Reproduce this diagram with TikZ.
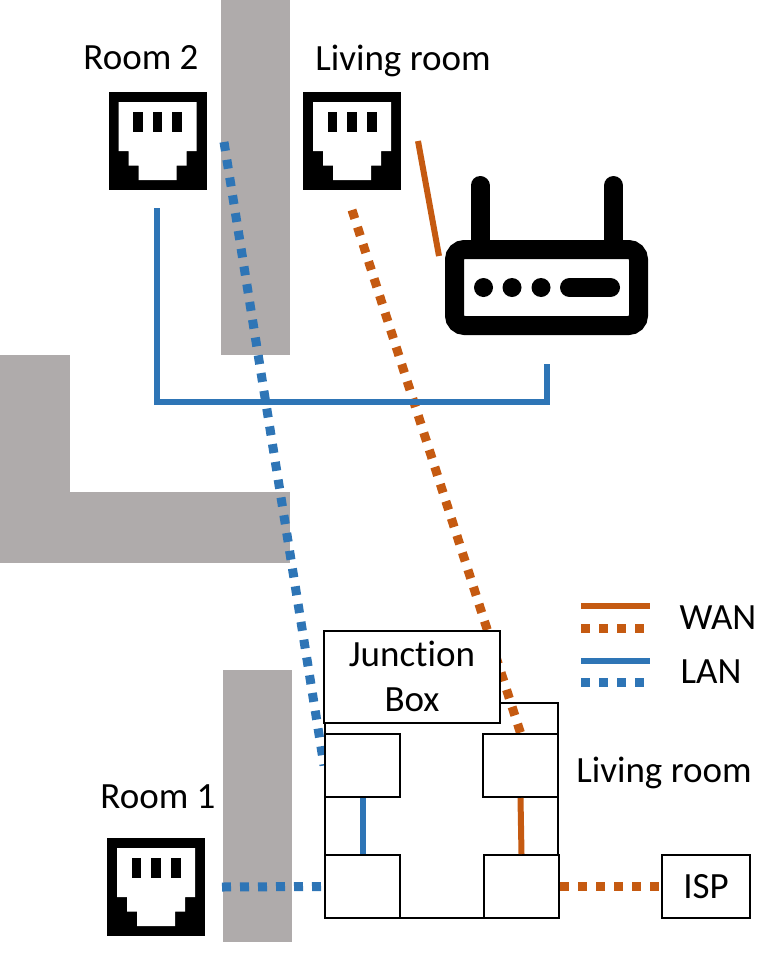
\documentclass[tikz,border=0pt]{standalone}
\usepackage{fontspec}
\setmainfont{Carlito}[Ligatures=NoCommon]
\usetikzlibrary{positioning}
\usetikzlibrary{backgrounds}

\definecolor{wancolor}{HTML}{C55A11}
\definecolor{lancolor}{HTML}{2E75B6}
\definecolor{wallcolor}{HTML}{AFABAB}

\tikzset{
    wall/.style = {fill = wallcolor, draw = none},
    label/.style = {inner sep = 0pt, font = \fontsize{37}{45}\selectfont},
    box/.style = {draw = black, line width = 2pt, fill = white, inner sep = 0pt},
    port/.style = {box, minimum width = 75pt, minimum height = 63pt},
    wan/.style = {draw = wancolor, line width = 6pt},
    lan/.style = {draw = lancolor, line width = 6pt},
    wandots/.style = {draw = wancolor, line width = 9pt, dash pattern = on 9pt off 9pt},
    landots/.style = {draw = lancolor, line width = 9pt, dash pattern = on 9pt off 9pt},
    jack/.pic = {
        \node (-frame) [fill = black, inner sep = 0pt, minimum size = 98pt] at (0,0) {};
        \fill[white] (-39,-39) -- (39,-39) -- (39,10) -- (29,10) -- (29,24.5) -- (19,24.5)
            -- (19,39) -- (-19,39) -- (-19,24.5) -- (-29,24.5) -- (-29,10) -- (-39,10) -- cycle;
        \fill[black] (-24.5,-29) rectangle (-15,-9.5);
        \fill[black] (-5,-29) rectangle (4.5,-9.5);
        \fill[black] (14.5,-29) rectangle (24.5,-9.5);
    },
    router/.pic = {
        \draw[line width = 19pt, line cap = round] (-66.5,-102) -- (-66.5,-30);
        \draw[line width = 19pt, line cap = round] (67,-102) -- (67,-30);
        \node (-body) [draw = black, line width = 19pt, fill = white, rounded corners = 10pt,
            inner sep = 0pt, minimum width = 184pt, minimum height = 76pt] at (0,0) {};
        \fill[black] (-63,0) circle (9.5);
        \fill[black] (-34.5,0) circle (9.5);
        \fill[black] (-5.5,0) circle (9.5);
        \draw[line width = 19pt, line cap = round] (23,0) -- (64,0);
    },
}

\begin{document}
\begin{tikzpicture}[x = 1pt, y = -1pt, on grid]
    \useasboundingbox (0,0) rectangle (780,953);

    \pic (jackRoomTwo) at (157.5,141) {jack};
    \pic (jackLiving) at (352,141) {jack};
    \pic (jackRoomOne) at (156,887) {jack};
    \pic (wifi) at (546.5,287.5) {router};

    \node (nameRoomTwo) [label] at (141,58) {Room 2};
    \node (nameLiving) [label] at (403,61) {Living room};
    \node (nameRoomOne) [label] at (158,797) {Room 1};
    \node (nameBox) [label] at (664,773) {Living room};

    \node (portA) [port] at (362.5,765.5) {};
    \node (portB) [port, right = 158pt of portA] {};
    \node (portC) [port, below = 121pt of portA] {};
    \node (portD) [port, right = 159pt of portC] {};
    \node (junction) [box, label, align = center, minimum width = 176pt, minimum height = 92pt] at (412,676.5) {Junction\\Box};
    \node (isp) [box, label, minimum width = 88pt, minimum height = 63pt] at (706,886.5) {ISP};

    \coordinate (tapRoomTwo) at (224,142);
    \coordinate (tapLiving) at (352,210);
    \coordinate (tapRoomOne) at (222,887);
    \coordinate (lanStart) at (157,208);
    \coordinate (lanEnd) at (547,364);
    \coordinate (wanStart) at (418,141);
    \coordinate (wanEnd) at (439,256);

    \begin{scope}[on background layer]
        \fill[wall] (221,0) rectangle (290,355);
        \fill[wall] (0,355) rectangle (70,563);
        \fill[wall] (70,492) rectangle (290,563);
        \fill[wall] (223,670) rectangle (292,942);

        \draw[landots] (tapRoomTwo) -- (portA.west);
        \draw[wandots] (tapLiving) -- (portB.north);
        \draw[landots] (tapRoomOne) -- (portC.west);

        \draw[black, line width = 2pt] (325,703) rectangle (558,918);
    \end{scope}

    \draw[wandots] (portD.east) -- (isp.west);
    \draw[lan] (portA.south) -- (portC.north);
    \draw[wan] (portB.south) -- (portD.north);
    \draw[lan] (lanStart) |- (lanEnd |- 0,402) -- (lanEnd);
    \draw[wan] (wanStart) -- (wanEnd);

    % legend
    \coordinate (keyA) at (581,606);
    \coordinate (keyB) at (650,606);
    \coordinate (keyC) at (581,628.5);
    \coordinate (keyD) at (650,628.5);
    \coordinate (keyE) at (581,661);
    \coordinate (keyF) at (650,661);
    \coordinate (keyG) at (581,682);
    \coordinate (keyH) at (650,682);
    \draw[wan] (keyA) -- (keyB);
    \draw[wandots] (keyC) -- (keyD);
    \draw[lan] (keyE) -- (keyF);
    \draw[landots] (keyG) -- (keyH);
    \node (nameWan) [label] at (718,618) {WAN};
    \node (nameLan) [label] at (711,672) {LAN};
\end{tikzpicture}
\end{document}
